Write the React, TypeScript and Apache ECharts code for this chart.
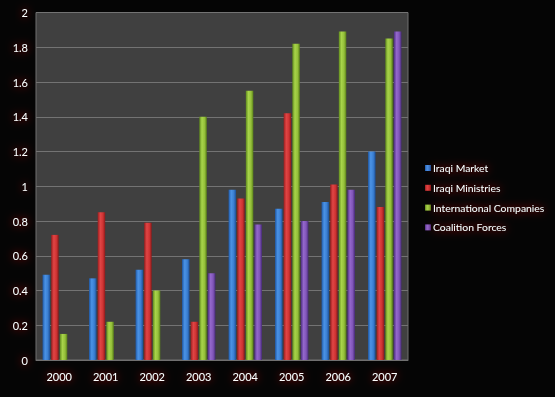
import React, { useEffect, useRef } from "react";
import * as echarts from "echarts";

const categories = ["2000", "2001", "2002", "2003", "2004", "2005", "2006", "2007"];
const iraqiMarket = [0.49, 0.47, 0.52, 0.58, 0.98, 0.87, 0.91, 1.2];
const iraqiMinistries = [0.72, 0.85, 0.79, 0.22, 0.93, 1.42, 1.01, 0.88];
const internationalCompanies = [0.15, 0.22, 0.4, 1.4, 1.55, 1.82, 1.89, 1.85];
const coalitionForces = [null, null, null, 0.5, 0.78, 0.8, 0.98, 1.89];
const seriesNames = ["Iraqi Market", "Iraqi Ministries", "International Companies", "Coalition Forces"];
const yTicks = [0, 0.2, 0.4, 0.6, 0.8, 1, 1.2, 1.4, 1.6, 1.8, 2];

const palettes = [
  ["#1f5aa8", "#4b93e6", "#3a7fd2", "#1d4f96"],
  ["#9c1e1e", "#e04545", "#cf3333", "#8a1a1a"],
  ["#5f8a1c", "#a8d44a", "#95c03a", "#587f18"],
  ["#4f2f84", "#9468cc", "#8055b8", "#472a78"],
];

function grad(p: string[]) {
  return new echarts.graphic.LinearGradient(0, 0, 1, 0, [
    { offset: 0, color: p[0] },
    { offset: 0.35, color: p[1] },
    { offset: 0.7, color: p[2] },
    { offset: 1, color: p[3] },
  ]);
}

const textStyleBase = {
  color: "#ffffff",
  fontFamily: "Lato, 'Open Sans', sans-serif",
  fontSize: 11,
  textShadowColor: "#c00000",
  textShadowBlur: 8,
};

export default function App() {
  const ref = useRef<HTMLDivElement>(null);
  useEffect(() => {
    if (!ref.current) return;
    const chart = echarts.init(ref.current, null, { renderer: "svg" });
    const data = [iraqiMarket, iraqiMinistries, internationalCompanies, coalitionForces];
    chart.setOption({
      animation: false,
      backgroundColor: "#050505",
      grid: {
        left: 36,
        right: 147,
        top: 12.5,
        bottom: 37,
        show: true,
        backgroundColor: "#404040",
        borderColor: "#707070",
        borderWidth: 1,
      },
      legend: {
        orient: "vertical",
        left: 420,
        top: 158,
        itemWidth: 6,
        itemHeight: 6,
        itemGap: 9.8,
        icon: "rect",
        data: seriesNames,
        textStyle: { ...textStyleBase, fontSize: 10.4, padding: [0, 0, 0, -3] },
      },
      xAxis: {
        type: "category",
        data: categories,
        axisLine: { show: true, lineStyle: { color: "#707070" } },
        axisTick: { show: false },
        axisLabel: { ...textStyleBase, margin: 11 },
      },
      yAxis: {
        type: "value",
        min: 0,
        max: 2,
        interval: 0.2,
        axisLine: { show: false },
        axisTick: { show: false },
        splitLine: { lineStyle: { color: "#737373", width: 1 } },
        axisLabel: {
          ...textStyleBase,
          margin: 8,
          formatter: (v: number) => {
            const t = yTicks.find((x) => Math.abs(x - v) < 1e-6);
            return t === undefined ? "" : String(t);
          },
        },
      },
      series: data.map((d, i) => ({
        name: seriesNames[i],
        type: "bar",
        data: d,
        barWidth: 7.5,
        barGap: "15%",
        itemStyle: { color: grad(palettes[i]) },
      })),
    });
    return () => chart.dispose();
  }, []);
  return (
    <div
      style={{
        position: "absolute",
        left: 0,
        top: 0,
        width: 555,
        height: 397,
        boxSizing: "border-box",
        borderTop: "2px solid #8a8a8a",
        borderLeft: "1px solid #5a5a5a",
        borderBottom: "3px solid #b0b0b0",
        background: "#050505",
      }}
    >
      <div ref={ref} style={{ position: "absolute", left: -1, top: -2, width: 555, height: 397 }} />
    </div>
  );
}
